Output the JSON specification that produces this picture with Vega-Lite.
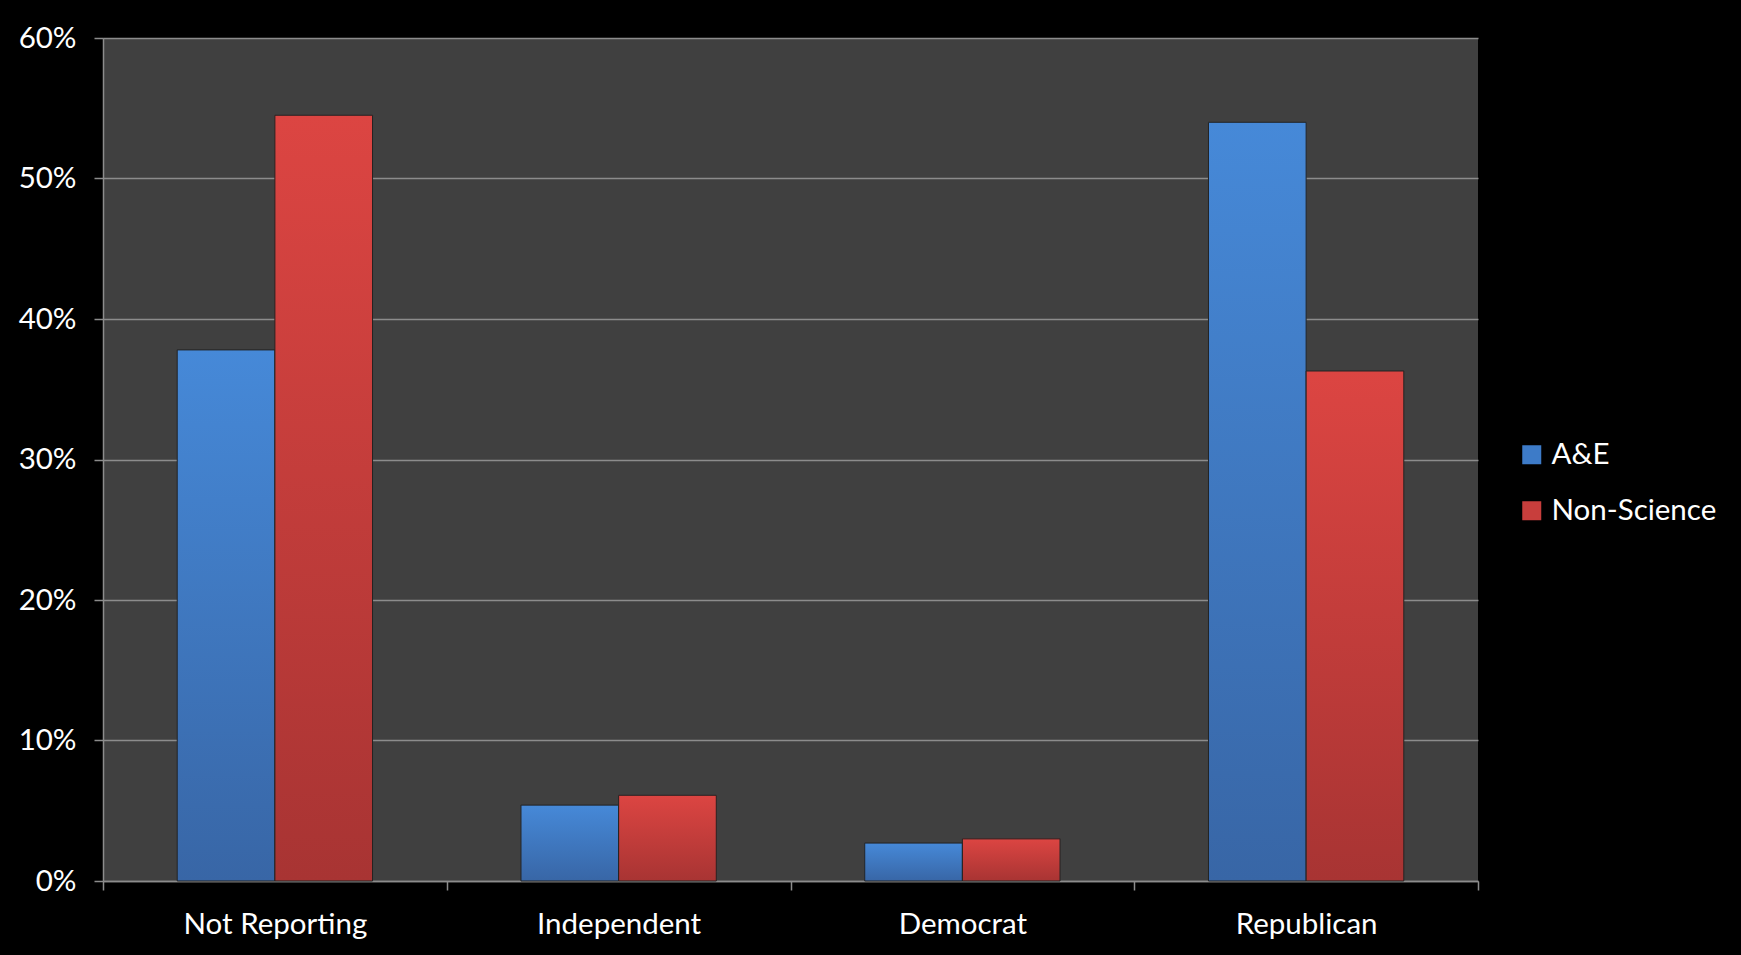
{
  "$schema": "https://vega.github.io/schema/vega-lite/v6.json",
  "width": 1375,
  "height": 843,
  "autosize": {"type": "none"},
  "padding": {"left": 103, "top": 38, "right": 263, "bottom": 74},
  "background": "#000000",
  "config": {
    "view": {"fill": "#404040", "stroke": null},
    "font": "Lato",
    "axis": {"labelFont": "Lato", "labelFontSize": 29.5, "labelColor": "#ffffff", "domainColor": "#8c8c8c", "tickColor": "#8c8c8c", "domainWidth": 1.5, "tickWidth": 1.5, "labelLimit": 0},
    "legend": {"labelFont": "Lato", "labelFontSize": 29.5, "labelColor": "#ffffff", "labelLimit": 0}
  },
  "data": {
    "values": [
      {"party": "Not Reporting", "group": "A&E", "pct": 0.378},
      {"party": "Not Reporting", "group": "Non-Science", "pct": 0.545},
      {"party": "Independent", "group": "A&E", "pct": 0.054},
      {"party": "Independent", "group": "Non-Science", "pct": 0.061},
      {"party": "Democrat", "group": "A&E", "pct": 0.027},
      {"party": "Democrat", "group": "Non-Science", "pct": 0.030},
      {"party": "Republican", "group": "A&E", "pct": 0.540},
      {"party": "Republican", "group": "Non-Science", "pct": 0.363}
    ]
  },
  "encoding": {
    "x": {
      "field": "party", "type": "nominal",
      "sort": ["Not Reporting", "Independent", "Democrat", "Republican"],
      "scale": {"paddingInner": 0, "paddingOuter": 0},
      "axis": {"title": null, "labelAngle": 0, "tickBand": "extent", "tickSize": 9, "labelPadding": 20, "grid": false}
    },
    "xOffset": {
      "field": "group", "type": "nominal", "sort": ["A&E", "Non-Science"],
      "scale": {"paddingInner": 0, "paddingOuter": 0.76}
    },
    "y": {
      "field": "pct", "type": "quantitative",
      "scale": {"domain": [0, 0.6], "nice": false},
      "axis": {"title": null, "format": "%", "values": [0, 0.1, 0.2, 0.3, 0.4, 0.5, 0.6], "grid": true, "gridColor": "#8c8c8c", "gridWidth": 1.5, "tickSize": 9, "labelPadding": 18}
    }
  },
  "layer": [
    {
      "mark": {"type": "bar"},
      "encoding": {
        "color": {
          "field": "group", "type": "nominal", "sort": ["A&E", "Non-Science"],
          "scale": {"range": ["#3d7bc8", "#c83e3c"]},
          "legend": {"title": null, "orient": "none", "legendX": 1414, "legendY": 402, "symbolType": "square", "symbolSize": 361, "symbolStrokeWidth": 0, "labelOffset": 5, "rowPadding": 25, "padding": 0}
        }
      }
    },
    {
      "mark": {"type": "bar", "stroke": "#222222", "strokeWidth": 1},
      "encoding": {
        "fill": {
          "condition": {
            "test": "datum.group === 'A&E'",
            "value": {"gradient": "linear", "x1": 0, "y1": 0, "x2": 0, "y2": 1, "stops": [{"offset": 0, "color": "#4689d8"}, {"offset": 1, "color": "#3866a6"}]}
          },
          "value": {"gradient": "linear", "x1": 0, "y1": 0, "x2": 0, "y2": 1, "stops": [{"offset": 0, "color": "#dc4542"}, {"offset": 1, "color": "#a83433"}]}
        }
      }
    }
  ]
}
